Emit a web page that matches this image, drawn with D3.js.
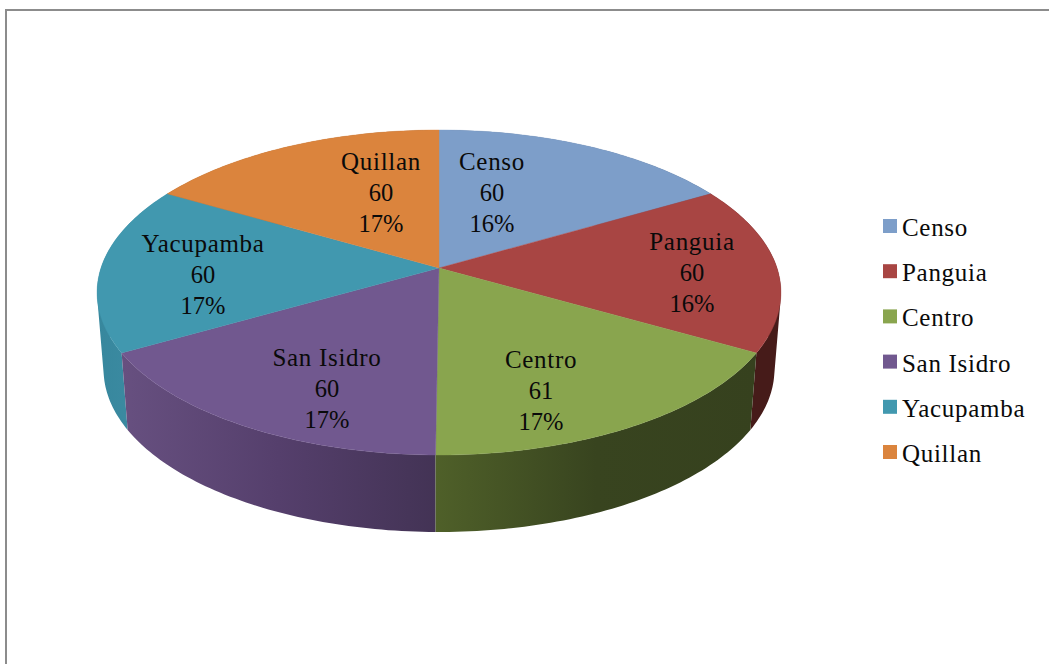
<!DOCTYPE html>
<html>
<head>
<meta charset="utf-8">
<script src="https://cdn.jsdelivr.net/npm/d3@7"></script>
<style>
html,body{margin:0;padding:0;background:#fff;overflow:hidden}
svg{display:block}
text{font-family:"Liberation Serif","Times New Roman",serif;fill:#0a0a0a}
.name{font-size:25px;letter-spacing:0.7px}
.num{font-size:24.5px}
</style>
</head>
<body>
<svg id="chart" width="1049" height="664"></svg>
<script>
// ---- data ----
const categories = ["Censo","Panguia","Centro","San Isidro","Yacupamba","Quillan"];
const values = [60,60,61,60,60,60];
const percentLabels = ["16%","16%","17%","17%","17%","17%"];

// ---- style and layout (separate from data) ----
const topColors = ["#7d9ec9","#a84543","#89a54e","#71588f","#4198af","#db843d"];
const wallStops = [
  ["#5a7396","#5a7396","#3f5470"],
  ["#4a1e1c","#461b19","#461b19"],
  ["#4f6029","#38441f","#36411e"],
  ["#675080","#553f6c","#433355"],
  ["#37879d","#3b8aa1","#3b8aa1"],
  ["#a0602c","#a0602c","#a0602c"]
];
const labelCenters = [[492,193],[692,273],[541,391],[327,389],[203,275],[381,193]];

const cx = 439, cy = 268;          // apex of the pie on screen
const rx = 338, ry = 158.8, k = 0.1508; // perspective ellipse
const depth = 77, shrink = 0.981;

const svg = d3.select("#chart");
const defs = svg.append("defs");

// frame
svg.append("path").attr("d","M6,664V10H1049").attr("fill","none").attr("stroke","#8c8c8c").attr("stroke-width",2);

const pie = d3.pie().sort(null).startAngle(0).endAngle(2*Math.PI)(values);

// circle angle (clockwise from 12 o'clock) -> projected point
const rim = (a, r=1) => {
  const u = r*Math.sin(a), v = -r*Math.cos(a), d = 1 - k*v;
  return [cx + rx*u/d, cy + ry*v/d];
};
const lower = ([x,y]) => [cx + (x-cx)*shrink, y + depth];
const line = d3.line();
const angles = (a0,a1) => d3.range(0,61).map(i => a0 + (a1-a0)*i/60);

const slices = pie.map((d,i) => ({...d, i, mid:(d.startAngle+d.endAngle)/2}));

// walls, back to front; each wall is a union of thin quads with one winding,
// so that the edge running down from the silhouette point is filled too
[...slices].sort((a,b) => Math.cos(b.mid)-Math.cos(a.mid)).forEach(s => {
  const as = angles(s.startAngle, s.endAngle);
  const upper = as.map(a => rim(a));
  const xs = d3.extent(upper, p => p[0]);
  const id = "wall"+s.i;
  const g = defs.append("linearGradient").attr("id",id).attr("gradientUnits","userSpaceOnUse")
    .attr("x1",xs[0]).attr("x2",xs[1]).attr("y1",0).attr("y2",0);
  wallStops[s.i].forEach((c,j) => g.append("stop").attr("offset",j/2).attr("stop-color",c));
  const d = d3.pairs(upper).map(([p,q]) => {
    const quad = [p,q,lower(q),lower(p)];
    if (d3.polygonArea(quad) < 0) quad.reverse();
    return line(quad)+"Z";
  }).join("");
  svg.append("path").attr("d",d).attr("fill",`url(#${id})`);
});

// top faces
slices.forEach(s => {
  const pts = [[cx,cy]].concat(angles(s.startAngle,s.endAngle).map(a => rim(a)));
  svg.append("path").attr("d",line(pts)+"Z").attr("fill",topColors[s.i])
    .attr("stroke",topColors[s.i]).attr("stroke-width",0.4);
});

// data labels
slices.forEach(s => {
  const [x,y] = labelCenters[s.i];
  const t = svg.append("text").attr("text-anchor","middle");
  [categories[s.i], String(values[s.i]), percentLabels[s.i]].forEach((txt,j) => {
    t.append("tspan").attr("class", j ? "num" : "name").attr("x",x).attr("y",y-23+j*31).text(txt);
  });
});

// legend
const legendY = d3.scalePoint().domain(categories).range([226,452]);
categories.forEach((c,i) => {
  svg.append("rect").attr("x",883).attr("y",legendY(c)-7).attr("width",14).attr("height",14).attr("fill",topColors[i]);
  svg.append("text").attr("class","name").attr("x",902).attr("y",legendY(c)+10).text(c);
});
</script>
</body>
</html>
